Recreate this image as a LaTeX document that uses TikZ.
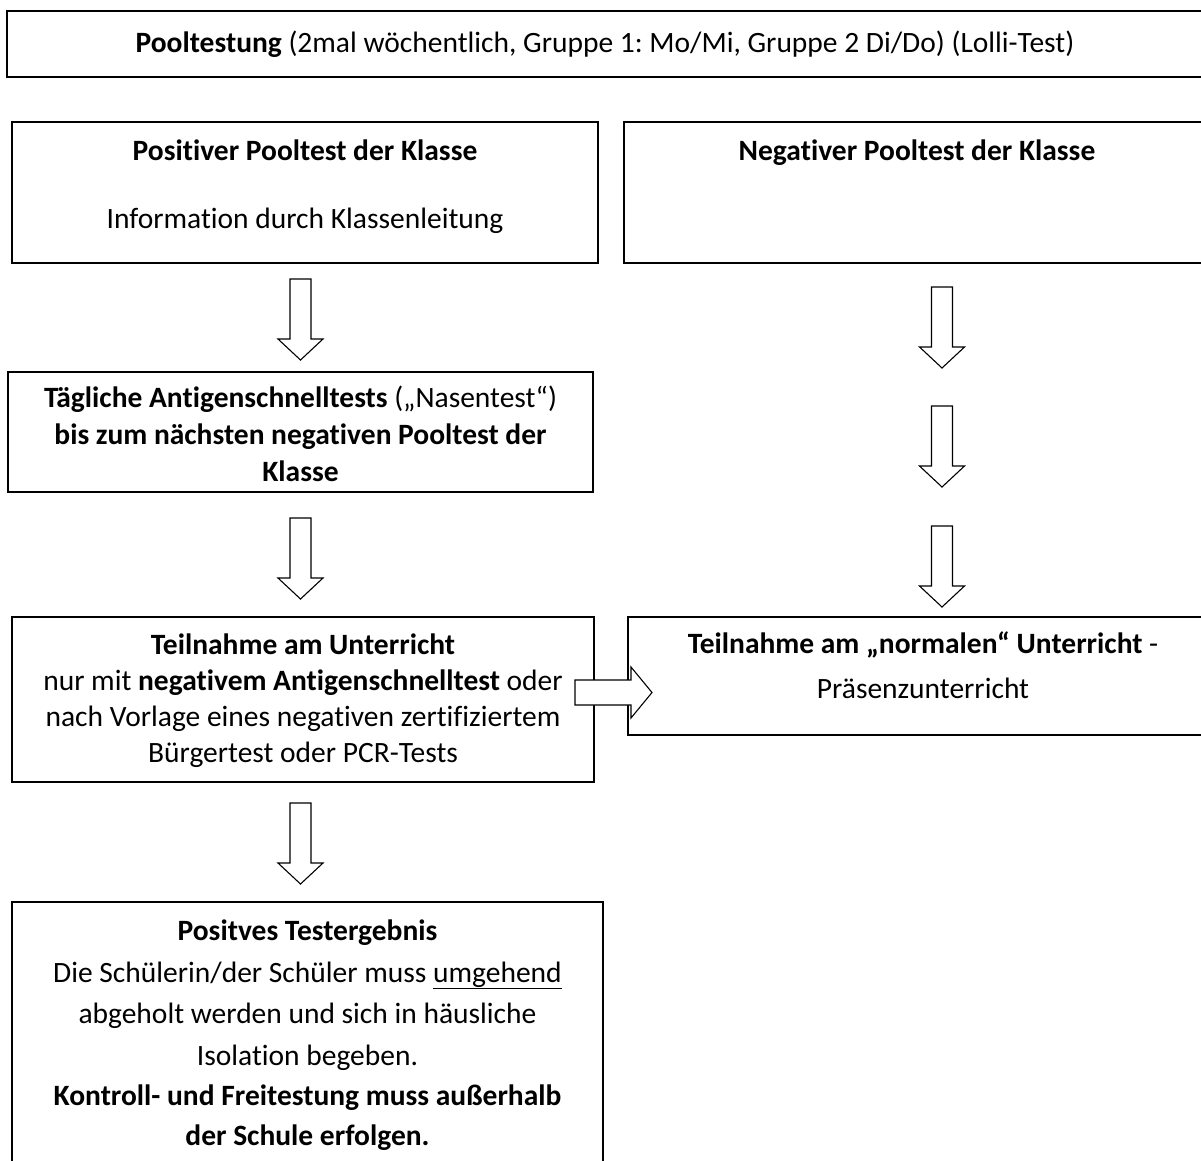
\documentclass[tikz,border=0pt]{standalone}
\usepackage{fontspec}
\setmainfont[Ligatures={CommonOff,RareOff}]{Carlito}
\frenchspacing
\begin{document}
\begin{tikzpicture}[x=1pt,y=-1pt,
  box/.style={draw, line width=1.5pt, inner sep=0pt, rectangle},
  txt/.style={anchor=base, inner sep=0pt, font=\fontsize{29.5}{36}\selectfont},
  blockarrow/.style={draw, line width=1.1pt, fill=white, line join=miter},
  downarr/.pic={\draw[blockarrow] (-10.5,0) -- (10.5,0) -- (10.5,60) -- (22.5,60) -- (0,81) -- (-22.5,60) -- (-10.5,60) -- cycle;},
  rightarr/.pic={\draw[blockarrow] (0,-12.5) -- (56,-12.5) -- (56,-25.5) -- (77,0) -- (56,25.5) -- (56,12.5) -- (0,12.5) -- cycle;}
]
\useasboundingbox (0,0) rectangle (1201,1160);
\clip (0,0) rectangle (1201,1160);

% boxes
\node[box, minimum width=1196pt, minimum height=66pt] (top) at (605,44) {};
\node[box, minimum width=586pt, minimum height=141pt] (pos) at (305,192.5) {};
\node[box, minimum width=591pt, minimum height=141pt] (neg) at (919.5,192.5) {};
\node[box, minimum width=585pt, minimum height=120pt] (daily) at (300.5,432) {};
\node[box, minimum width=582pt, minimum height=165pt] (part) at (303,699.5) {};
\node[box, minimum width=590pt, minimum height=118pt] (normal) at (923,676) {};
\node[box, minimum width=591pt, minimum height=273pt] (result) at (307.5,1038.5) {};

% texts
\node[txt] (toptxt) at (605,52) {\textbf{Pooltestung} (2mal wöchentlich, Gruppe 1: Mo/Mi, Gruppe 2 Di/Do) (Lolli-Test)};
\node[txt] (pos1) at (305,160) {\textbf{Positiver Pooltest der Klasse}};
\node[txt] (pos2) at (305,228) {Information durch Klassenleitung};
\node[txt] (neg1) at (917,160) {\textbf{Negativer Pooltest der Klasse}};
\node[txt] (d1) at (300.5,407) {\textbf{Tägliche Antigenschnelltests} („Nasentest“)};
\node[txt] (d2) at (300.5,444) {\textbf{bis zum nächsten negativen Pooltest der}};
\node[txt] (d3) at (300.5,481) {\textbf{Klasse}};
\node[txt] (p1) at (303,654) {\textbf{Teilnahme am Unterricht}};
\node[txt] (p2) at (303,690) {nur mit \textbf{negativem Antigenschnelltest} oder};
\node[txt] (p3) at (303,726) {nach Vorlage eines negativen zertifiziertem};
\node[txt] (p4) at (303,762) {Bürgertest oder PCR-Tests};
\node[txt] (n1) at (923,653) {\textbf{Teilnahme am „normalen“ Unterricht} -};
\node[txt] (n2) at (923,698) {Präsenzunterricht};
\node[txt] (r1) at (307.5,940) {\textbf{Positves Testergebnis}};
\node[txt] (r2) at (307.5,982) {Die Schülerin/der Schüler muss \underline{umgehend}};
\node[txt] (r3) at (307.5,1023) {abgeholt werden und sich in häusliche};
\node[txt] (r4) at (307.5,1065) {Isolation begeben.};
\node[txt] (r5) at (307.5,1105) {\textbf{Kontroll- und Freitestung muss außerhalb}};
\node[txt] (r6) at (307.5,1145) {\textbf{der Schule erfolgen.}};

% block arrows
\pic (a1) at (300.5,279) {downarr};
\pic (a2) at (300.5,518) {downarr};
\pic (a3) at (300.5,803) {downarr};
\pic (b1) at (942,287) {downarr};
\pic (b2) at (942,406) {downarr};
\pic (b3) at (942,526) {downarr};
\pic (h1) at (575,692.5) {rightarr};
\end{tikzpicture}
\end{document}
